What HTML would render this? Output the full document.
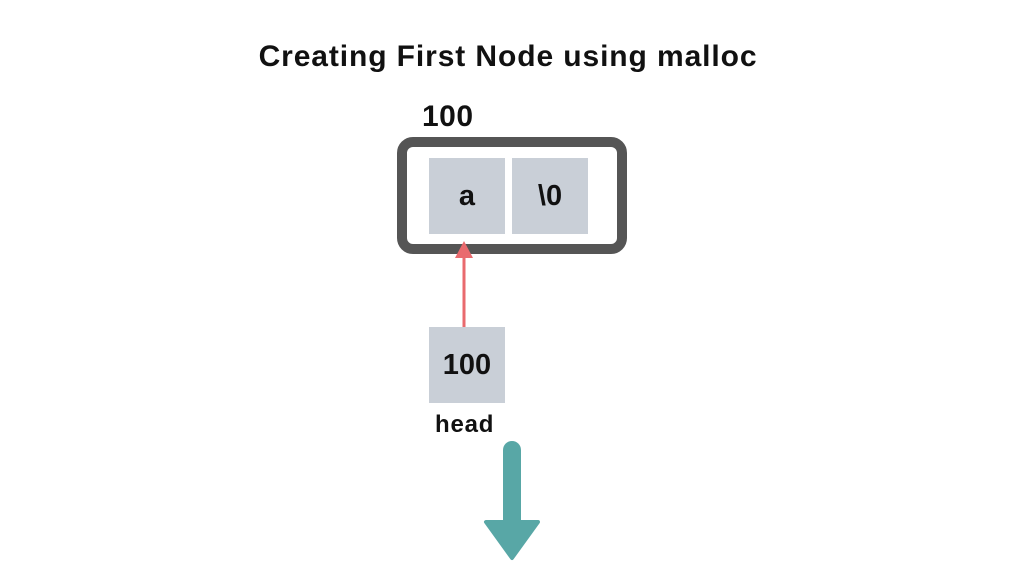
<!DOCTYPE html>
<html><head><style>
body{margin:0;width:1024px;height:578px;background:#fff;position:relative;font-family:"Liberation Sans",sans-serif;font-weight:bold;color:#111;overflow:hidden}
.t{position:absolute;white-space:nowrap}
.cell{position:absolute;background:#c9cfd7;display:flex;align-items:center;justify-content:center;font-size:29px}
</style></head><body>
<div class="t" style="left:0;width:1016px;text-align:center;top:40px;font-size:30px;letter-spacing:0.9px">Creating First Node using malloc</div>
<div class="t" style="left:422px;top:100px;font-size:30px;letter-spacing:0.5px">100</div>
<div style="position:absolute;left:397px;top:137px;width:210px;height:97px;border:10px solid #555;border-radius:16px"></div>
<div class="cell" style="left:429px;top:158px;width:76px;height:76px">a</div>
<div class="cell" style="left:512px;top:158px;width:76px;height:76px">\0</div>
<div class="cell" style="left:429px;top:327px;width:76px;height:76px">100</div>
<div class="t" style="left:435px;top:411px;font-size:24px;letter-spacing:0.8px">head</div>
<svg style="position:absolute;left:0;top:0" width="1024" height="578">
<line x1="464" y1="327" x2="464" y2="255" stroke="#e96a6e" stroke-width="3"/>
<polygon points="464,241 455,258 473,258" fill="#e96a6e"/>
<line x1="512" y1="450" x2="512" y2="525" stroke="#58a7a6" stroke-width="18" stroke-linecap="round"/>
<polygon points="486,522 538,522 512,558" fill="#58a7a6" stroke="#58a7a6" stroke-width="4" stroke-linejoin="round"/>
</svg>
</body></html>
